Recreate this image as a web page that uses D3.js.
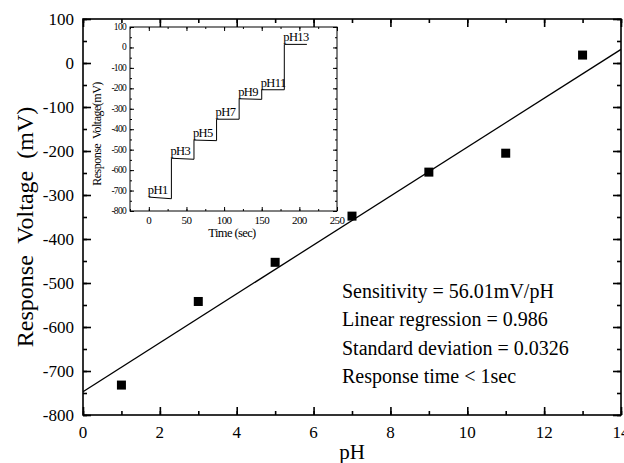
<!DOCTYPE html>
<html><head><meta charset="utf-8">
<script src="https://cdn.jsdelivr.net/npm/d3@7"></script>
<style>
body{margin:0;background:#fff;}
svg{display:block;}
svg text{font-family:"Liberation Serif","Times New Roman",serif;}
</style></head>
<body><svg id="c" width="624" height="463"></svg>
<script>
// ---- main chart data ----
const phValues = [1, 3, 5, 7, 9, 11, 13];
const responseMv = [-732, -542, -453, -348, -248, -205, 18];
const fitPh = [0, 14];
const fitMv = [-747, 31];
const xTicks = [0, 2, 4, 6, 8, 10, 12, 14];
const yTicks = [100, 0, -100, -200, -300, -400, -500, -600, -700, -800];
const annotations = ["Sensitivity = 56.01mV/pH", "Linear regression = 0.986", "Standard deviation = 0.0326", "Response time < 1sec"];
// ---- inset data ----
const stepTime = [0, 30, 30, 60, 60, 90, 90, 120, 120, 150, 150, 180, 180, 210];
const stepMv = [-732, -740, -542, -547, -453, -456, -351, -351, -251, -254, -207, -207, 15, 15];
const stepLabels = ["pH1", "pH3", "pH5", "pH7", "pH9", "pH11", "pH13"];
const stepLabelTime = [0, 30, 60, 90, 120, 150, 180];
const stepLabelMv = [-732, -542, -453, -351, -251, -207, 15];
const insetXTicks = [0, 50, 100, 150, 200, 250];
const insetYTicks = [100, 0, -100, -200, -300, -400, -500, -600, -700, -800];

const FONT = '"Liberation Serif","Times New Roman",serif';
const svg = d3.select("#c");
const M = {l: 83, r: 621, t: 19, b: 415};
const x = d3.scaleLinear().domain([0, 14]).range([M.l, M.r]);
const y = d3.scaleLinear().domain([-800, 100]).range([M.b, M.t]);

function frameAxes(g, xs, ys, xMaj, xMin, yMaj, yMin, majL, minL, sw) {
  const [x0, x1] = xs.range(), [y0, y1] = ys.range();
  const add = (axis, tr, vals, len) => g.append("g").attr("transform", tr)
    .call(axis.tickValues(vals).tickSize(-len).tickFormat(""));
  add(d3.axisBottom(xs), `translate(0,${y0})`, xMin, minL);
  add(d3.axisBottom(xs), `translate(0,${y0})`, xMaj, majL);
  add(d3.axisTop(xs), `translate(0,${y1})`, xMin, minL);
  add(d3.axisTop(xs), `translate(0,${y1})`, xMaj, majL);
  add(d3.axisLeft(ys), `translate(${x0},0)`, yMin, minL);
  add(d3.axisLeft(ys), `translate(${x0},0)`, yMaj, majL);
  add(d3.axisRight(ys), `translate(${x1},0)`, yMin, minL);
  add(d3.axisRight(ys), `translate(${x1},0)`, yMaj, majL);
  g.selectAll(".domain").remove();
  g.selectAll(".tick line").attr("stroke", "#000").attr("stroke-width", sw);
  g.append("rect").attr("x", x0).attr("y", y1).attr("width", x1 - x0).attr("height", y0 - y1)
    .attr("fill", "none").attr("stroke", "#000").attr("stroke-width", sw);
}

const main = svg.append("g");
frameAxes(main, x, y, xTicks, d3.range(0, 15, 1), yTicks, d3.range(-800, 101, 50), 8, 4, 1.6);

// tick labels
main.append("g").selectAll("text").data(xTicks).join("text")
  .attr("font-family", FONT)
  .attr("x", d => x(d)).attr("y", M.b + 23).attr("text-anchor", "middle")
  .attr("font-size", 17).text(d => d);
main.append("g").selectAll("text").data(yTicks).join("text")
  .attr("font-family", FONT)
  .attr("x", M.l - 9).attr("y", d => y(d) + 6).attr("text-anchor", "end")
  .attr("font-size", 17).text(d => d);

// axis titles
svg.append("text").attr("font-family", FONT).attr("x", 352).attr("y", 459).attr("text-anchor", "middle")
  .attr("font-size", 21).text("pH");
svg.append("text").attr("font-family", FONT).attr("transform", `translate(33,${(M.t + M.b) / 2 + 10}) rotate(-90)`)
  .attr("text-anchor", "middle").attr("font-size", 24)
  .style("white-space", "pre").text("Response  Voltage  (mV)");

// fit line
svg.append("clipPath").attr("id", "pc").append("rect")
  .attr("x", M.l).attr("y", M.t).attr("width", M.r - M.l).attr("height", M.b - M.t);
main.append("path").datum(fitPh.map((p, i) => [p, fitMv[i]]))
  .attr("clip-path", "url(#pc)")
  .attr("d", d3.line().x(d => x(d[0])).y(d => y(d[1])))
  .attr("fill", "none").attr("stroke", "#000").attr("stroke-width", 1.3);

// markers
main.append("g").selectAll("rect").data(phValues).join("rect")
  .attr("x", d => x(d) - 4.5).attr("y", (d, i) => y(responseMv[i]) - 4.5)
  .attr("width", 9).attr("height", 9).attr("fill", "#000");

// annotations
svg.append("g").selectAll("text").data(annotations).join("text")
  .attr("font-family", FONT)
  .attr("x", 342).attr("y", (d, i) => 298 + i * 28.3)
  .attr("font-size", 20).text(d => d);

// ---- inset ----
const ix = d3.scaleLinear().domain([-25, 250]).range([130, 337]);
const iy = d3.scaleLinear().domain([-800, 100]).range([211, 27]);
const ins = svg.append("g");
ins.append("rect").attr("x", 130).attr("y", 27).attr("width", 207).attr("height", 184).attr("fill", "#fff");
frameAxes(ins, ix, iy, insetXTicks, d3.range(-25, 251, 25), insetYTicks, d3.range(-800, 101, 50), 4, 2, 1);

ins.append("g").selectAll("text").data(insetXTicks).join("text")
  .attr("font-family", FONT)
  .attr("x", d => ix(d)).attr("y", 224).attr("text-anchor", "middle")
  .attr("font-size", 11).attr("letter-spacing", -0.6).text(d => d);
ins.append("g").selectAll("text").data(insetYTicks).join("text")
  .attr("font-family", FONT)
  .attr("x", 126).attr("y", d => iy(d) + 3).attr("text-anchor", "end")
  .attr("font-size", 9.5).attr("letter-spacing", -0.7).text(d => d);
ins.append("text").attr("font-family", FONT).attr("x", 232).attr("y", 237).attr("text-anchor", "middle")
  .attr("font-size", 12.5).attr("letter-spacing", -0.6).text("Time (sec)");
ins.append("text").attr("font-family", FONT).attr("transform", `translate(101,134) rotate(-90)`)
  .attr("text-anchor", "middle").attr("font-size", 12).attr("letter-spacing", -0.5)
  .style("white-space", "pre").text("Response  Voltage(mV)");

ins.append("path").datum(stepTime.map((t, i) => [t, stepMv[i]]))
  .attr("d", d3.line().x(d => ix(d[0])).y(d => iy(d[1])))
  .attr("fill", "none").attr("stroke", "#000").attr("stroke-width", 1);
ins.append("g").selectAll("text").data(stepLabels).join("text")
  .attr("font-family", FONT)
  .attr("x", (d, i) => ix(stepLabelTime[i]) - 1).attr("y", (d, i) => iy(stepLabelMv[i]) - 3)
  .attr("font-size", 12.5).attr("letter-spacing", -0.6).text(d => d);
</script></body></html>
